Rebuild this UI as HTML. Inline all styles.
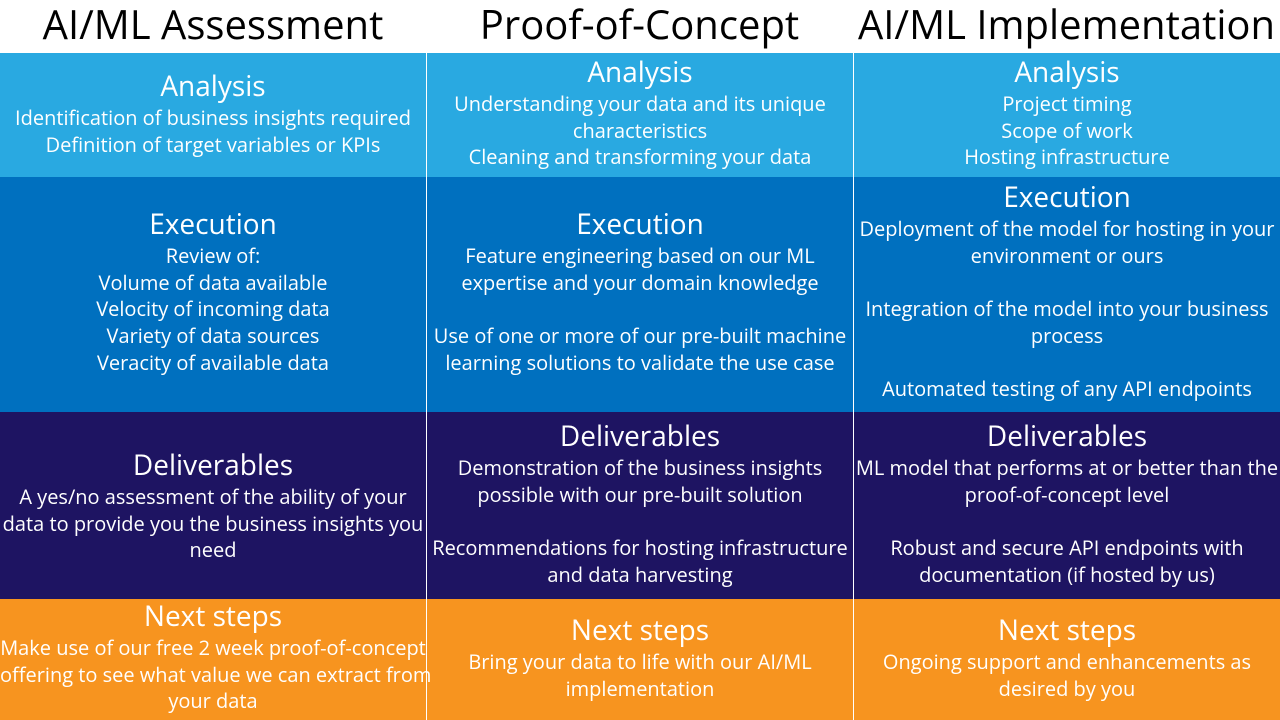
<!DOCTYPE html>
<html><head><meta charset="utf-8"><style>
body{margin:0;width:1280px;height:720px;background:#fff;position:relative;overflow:hidden;font-family:"Open Sans","Liberation Sans",sans-serif;color:#fff}
.t{position:absolute;top:0;height:52px;line-height:48px;font-size:40px;color:#000;text-align:center;white-space:nowrap}
.bg{position:absolute}
.c{position:absolute;text-align:center;white-space:nowrap;font-size:20px;line-height:26.7px}
.c h{display:block;font-size:28px;line-height:32px;margin-bottom:3px}
.v{position:absolute;top:53px;width:1px;height:667px;background:#fff}
</style></head><body>
<div class="t" style="left:0;width:426px">AI/ML Assessment</div>
<div class="t" style="left:426px;width:427px">Proof-of-Concept</div>
<div class="t" style="left:853px;width:427px">AI/ML Implementation</div>
<div class="bg" style="left:0;top:53px;width:1280px;height:124px;background:#29a9e1"></div>
<div class="bg" style="left:0;top:177px;width:1280px;height:235px;background:#0070bf"></div>
<div class="bg" style="left:0;top:412px;width:1280px;height:187px;background:#1e1462"></div>
<div class="bg" style="left:0;top:599px;width:1280px;height:121px;background:#f7941f"></div>
<div class="v" style="left:426px"></div>
<div class="v" style="left:853px"></div>

<div class="c" style="left:0;width:426px;top:70px"><h>Analysis</h>Identification of business insights required<br>Definition of target variables or KPIs</div>
<div class="c" style="left:427px;width:426px;top:56px"><h>Analysis</h>Understanding your data and its unique<br>characteristics<br>Cleaning and transforming your data</div>
<div class="c" style="left:854px;width:426px;top:56px"><h>Analysis</h>Project timing<br>Scope of work<br>Hosting infrastructure</div>

<div class="c" style="left:0;width:426px;top:208px"><h>Execution</h>Review of:<br>Volume of data available<br>Velocity of incoming data<br>Variety of data sources<br>Veracity of available data</div>
<div class="c" style="left:427px;width:426px;top:208px"><h>Execution</h>Feature engineering based on our ML<br>expertise and your domain knowledge<br>&nbsp;<br>Use of one or more of our pre-built machine<br>learning solutions to validate the use case</div>
<div class="c" style="left:854px;width:426px;top:181px"><h>Execution</h>Deployment of the model for hosting in your<br>environment or ours<br>&nbsp;<br>Integration of the model into your business<br>process<br>&nbsp;<br>Automated testing of any API endpoints</div>

<div class="c" style="left:0;width:426px;top:449px"><h>Deliverables</h>A yes/no assessment of the ability of your<br>data to provide you the business insights you<br>need</div>
<div class="c" style="left:427px;width:426px;top:420px"><h>Deliverables</h>Demonstration of the business insights<br>possible with our pre-built solution<br>&nbsp;<br>Recommendations for hosting infrastructure<br>and data harvesting</div>
<div class="c" style="left:854px;width:426px;top:420px"><h>Deliverables</h>ML model that performs at or better than the<br>proof-of-concept level<br>&nbsp;<br>Robust and secure API endpoints with<br>documentation (if hosted by us)</div>

<div class="c" style="left:0;width:426px;top:600px"><h>Next steps</h>Make use of our free 2 week proof-of-concept<br>offering to see what value we can extract from<br>your data</div>
<div class="c" style="left:427px;width:426px;top:614px"><h>Next steps</h>Bring your data to life with our AI/ML<br>implementation</div>
<div class="c" style="left:854px;width:426px;top:614px"><h>Next steps</h>Ongoing support and enhancements as<br>desired by you</div>
</body></html>
